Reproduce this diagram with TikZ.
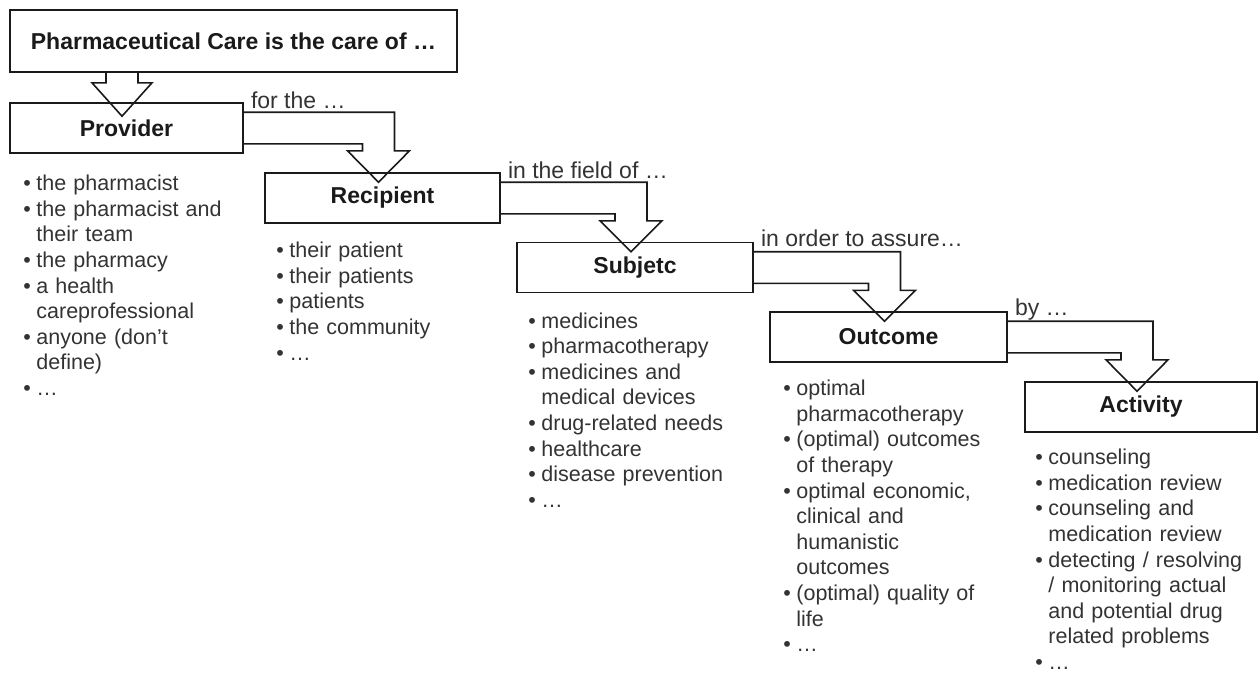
\documentclass[tikz,border=0pt]{standalone}
\usepackage{fontspec}
\setmainfont{Liberation Sans}
\usetikzlibrary{positioning, calc}
\definecolor{cInk}{HTML}{1A1A1A}
\definecolor{cText}{HTML}{333333}
\tikzset{
  headbox/.style={
    rectangle, draw=cInk, line width=1.6pt, inner sep=0pt,
    minimum height=50pt, text=cInk,
    font=\fontsize{23}{26}\selectfont\bfseries
  },
  titlebox/.style={headbox, minimum height=62pt},
  items/.style={
    inner sep=0pt, text width=245pt, text=cText,
    font=\fontsize{21.5}{25.6}\selectfont\raggedright
  },
  via/.style={inner sep=0pt, anchor=base west, text=cText,
    font=\fontsize{23}{26}\selectfont},
  block/.style={draw=cInk, line width=1.6pt, line join=miter},
}
% one bullet line, wrapped lines hang under the text
\newcommand{\itm}[1]{\par\hangindent=13pt\hangafter=1\noindent
  \makebox[13pt][l]{\textbullet}#1}
% bent block arrow from the right side of #1 down onto #2
\newcommand{\elbow}[2]{%
  \draw[block] let \p1=([xshift=-4pt,yshift=-10pt]#2.north),
                   \p2=([yshift=-10pt]#1.north east),
                   \p3=([yshift=10pt]#1.south east) in
    (\p2) -- (\x1+16pt,\y2) -- (\x1+16pt,\y3-7pt) -- (\x1+31pt,\y3-7pt)
    -- (\p1) -- (\x1-31pt,\y3-7pt) -- (\x1-16pt,\y3-7pt)
    -- (\x1-16pt,\y3) -- (\p3);}

\begin{document}
\begin{tikzpicture}[x=1pt, y=-1pt]
  \useasboundingbox (0,0) rectangle (1258,673);

  % Headline
  \node[titlebox, minimum width=447pt] (care) at (233.5,41)
    {Pharmaceutical Care is the care of \ldots};

  % The five steps
  \node[headbox, minimum width=233pt] (prov) at (126.5,128)  {Provider};
  \node[headbox, minimum width=235pt] (recp) at (382.5,198)  {Recipient};
  \node[headbox, minimum width=236pt] (subj) at (635,267.5)  {Subjetc};
  \node[headbox, minimum width=237pt] (outc) at (888.5,337)  {Outcome};
  \node[headbox, minimum width=232pt] (actv) at (1141,407)   {Activity};

  % Words on the bent arrows
  \node[via] (lfor)   at ([xshift=7pt,yshift=-6pt]prov.north east) {for the \ldots};
  \node[via] (lfield) at ([xshift=7pt,yshift=-6pt]recp.north east) {in the field of \ldots};
  \node[via] (lorder) at ([xshift=7pt,yshift=-5pt]subj.north east) {in order to assure\ldots};
  \node[via] (lby)    at ([xshift=7pt,yshift=-4pt]outc.north east) {by \ldots};

  % Lists
  \node[items, below right=11pt and 14pt of prov.south west] (provlist) {
    \itm{the pharmacist}
    \itm{the pharmacist and\newline their team}
    \itm{the pharmacy}
    \itm{a health\newline careprofessional}
    \itm{anyone (don’t\newline define)}
    \itm{\ldots}
  };
  \node[items, below right=8pt and 12pt of recp.south west] (recplist) {
    \itm{their patient}
    \itm{their patients}
    \itm{patients}
    \itm{the community}
    \itm{\ldots}
  };
  \node[items, below right=9pt and 12pt of subj.south west] (subjlist) {
    \itm{medicines}
    \itm{pharmacotherapy}
    \itm{medicines and\newline medical devices}
    \itm{drug-related needs}
    \itm{healthcare}
    \itm{disease prevention}
    \itm{\ldots}
  };
  \node[items, below right=7pt and 14pt of outc.south west] (outclist) {
    \itm{optimal\newline pharmacotherapy}
    \itm{(optimal) outcomes\newline of therapy}
    \itm{optimal economic,\newline clinical and\newline humanistic\newline outcomes}
    \itm{(optimal) quality of\newline life}
    \itm{\ldots}
  };
  \node[items, below right=6pt and 11pt of actv.south west] (actvlist) {
    \itm{counseling}
    \itm{medication review}
    \itm{counseling and\newline medication review}
    \itm{detecting / resolving\newline / monitoring actual\newline and potential drug\newline related problems}
    \itm{\ldots}
  };

  % Arrows
  \draw[block] let \p1=([xshift=-4.5pt,yshift=-14pt]prov.north),
                   \p2=(care.south) in
    (\x1-16pt,\y2) -- (\x1-16pt,\y2-10pt) -- (\x1-30pt,\y2-10pt) -- (\p1)
    -- (\x1+30pt,\y2-10pt) -- (\x1+16pt,\y2-10pt) -- (\x1+16pt,\y2);
  \elbow{prov}{recp}
  \elbow{recp}{subj}
  \elbow{subj}{outc}
  \elbow{outc}{actv}

\end{tikzpicture}
\end{document}
